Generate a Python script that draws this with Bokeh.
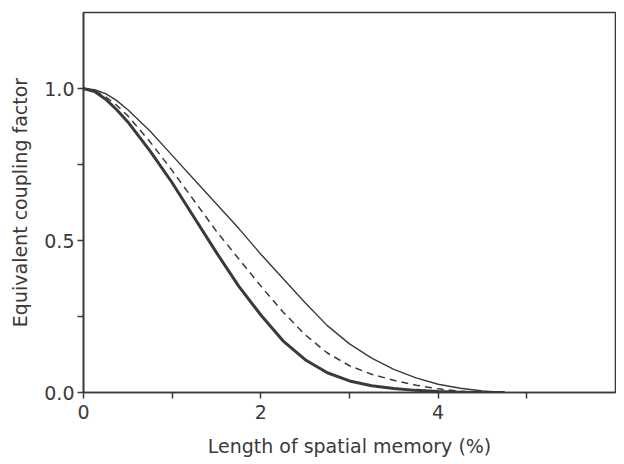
from bokeh.plotting import figure
from bokeh.models import Range1d, FixedTicker, ColumnDataSource
from bokeh.embed import file_html
from bokeh.resources import INLINE

# Data
x_vals = [0.0, 0.125, 0.25, 0.375, 0.5, 0.75, 1.0, 1.25, 1.5, 1.75, 2.0, 2.25, 2.5, 2.75,
          3.0, 3.25, 3.5, 3.75, 4.0, 4.25, 4.5, 4.75]
thick_curve = [1.0, 0.99, 0.965, 0.93, 0.89, 0.795, 0.69, 0.575, 0.46, 0.35, 0.255, 0.17,
               0.108, 0.065, 0.038, 0.022, 0.013, 0.007, 0.003, 0.001, 0.0, 0.0]
dashed_curve = [1.0, 0.993, 0.973, 0.945, 0.91, 0.825, 0.73, 0.63, 0.53, 0.44, 0.35, 0.265,
                0.19, 0.13, 0.088, 0.06, 0.04, 0.024, 0.012, 0.004, 0.0, 0.0]
thin_curve = [1.0, 0.996, 0.983, 0.96, 0.93, 0.86, 0.78, 0.70, 0.62, 0.54, 0.455, 0.375,
              0.295, 0.22, 0.16, 0.113, 0.076, 0.048, 0.027, 0.014, 0.005, 0.0]

x_ticks = [0, 2, 4]
x_minor = [1, 3, 5]
y_ticks = [0.0, 0.5, 1.0]
y_minor = [0.25, 0.75]
y_tick_labels = {0.0: "0.0", 0.5: "0.5", 1.0: "1.0"}

ink = "#3a3a3a"
font = "DejaVu Sans"

p = figure(width=616, height=462, output_backend="svg", toolbar_location=None,
           x_range=Range1d(0, 6), y_range=Range1d(0, 1.25),
           min_border_left=83, min_border_right=1, min_border_top=12,
           min_border_bottom=70)
p.background_fill_color = "white"
p.border_fill_color = "white"
p.grid.visible = False
p.outline_line_color = ink
p.outline_line_width = 1.6
p.outline_line_alpha = 1.0

src = ColumnDataSource(dict(x=x_vals, a=thick_curve, b=dashed_curve, c=thin_curve))
p.line("x", "c", source=src, line_color=ink, line_width=1.4, line_join="round")
p.line("x", "b", source=src, line_color=ink, line_width=1.5, line_dash="7 5",
       line_join="round")
p.line("x", "a", source=src, line_color=ink, line_width=3.0, line_join="round")

for ax in (p.xaxis[0], p.yaxis[0]):
    ax.axis_line_color = ink
    ax.axis_line_width = 1.6
    ax.major_tick_line_color = ink
    ax.minor_tick_line_color = ink
    ax.major_tick_line_width = 1.5
    ax.minor_tick_line_width = 1.5
    ax.major_tick_in = 0
    ax.major_tick_out = 6
    ax.minor_tick_in = 0
    ax.minor_tick_out = 6
    ax.major_label_text_font = font
    ax.major_label_text_font_size = "19px"
    ax.major_label_text_color = ink
    ax.axis_label_text_font = font
    ax.axis_label_text_font_size = "19px"
    ax.axis_label_text_font_style = "normal"
    ax.axis_label_text_color = ink

p.xaxis.ticker = FixedTicker(ticks=x_ticks, minor_ticks=x_minor)
p.yaxis.ticker = FixedTicker(ticks=y_ticks, minor_ticks=y_minor)
p.yaxis.major_label_overrides = y_tick_labels
p.xaxis.major_label_standoff = 6
p.yaxis.major_label_standoff = 3
p.xaxis.axis_label = "Length of spatial memory (%)"
p.yaxis.axis_label = "Equivalent coupling factor"
p.xaxis.axis_label_standoff = 13
p.yaxis.axis_label_standoff = 10

open("out.html", "w").write(file_html(p, INLINE))
